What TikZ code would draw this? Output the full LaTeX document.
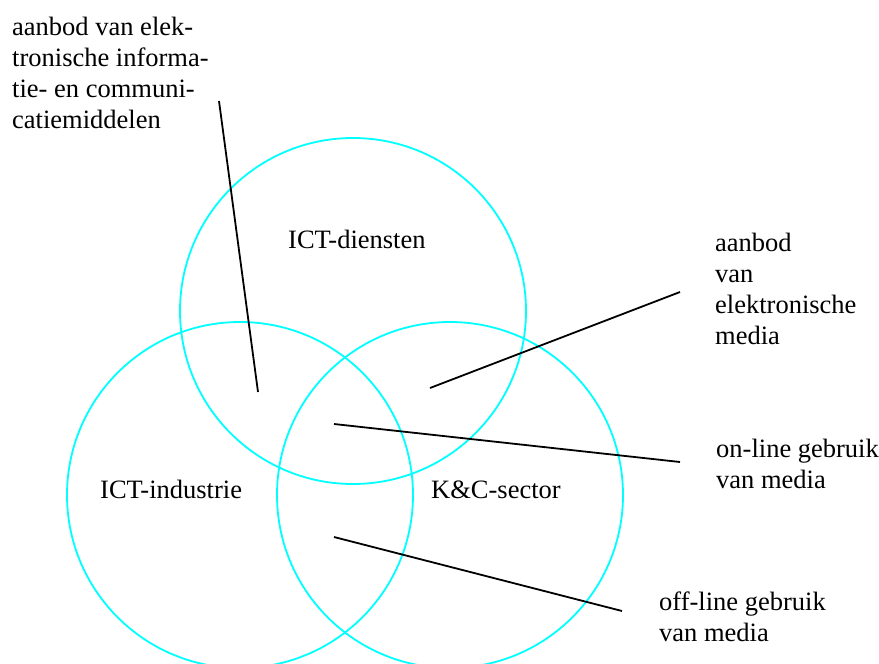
\documentclass[tikz,border=0pt]{standalone}
\usepackage{fontspec}
\setmainfont{Liberation Serif}
\definecolor{ringcol}{RGB}{0,255,255}
\begin{document}
\begin{tikzpicture}[x=1pt,y=-1pt,
  ring/.style={draw=ringcol,line width=1.8pt},
  lead/.style={draw=black,line width=1.8pt},
  lbl/.style={inner sep=0pt,font=\fontsize{26.5}{31}\selectfont,align=left,anchor=base west}]
\useasboundingbox (0,0) rectangle (879,664);
\draw[ring] (353,311) circle (173);
\draw[ring] (240,495) circle (173);
\draw[ring] (450,495) circle (173);
\node[lbl] (dien) at (288,248) {ICT-diensten};
\node[lbl] (ind) at (100,498) {ICT-industrie};
\node[lbl] (kc) at (431,498) {K\&C-sector};
\node[lbl,anchor=north west] (t1) at (12,17) {aanbod van elek-\\tronische informa-\\tie- en communi-\\catiemiddelen};
\node[lbl,anchor=north west] (t2) at (715,233) {aanbod\\van\\elektronische\\media};
\node[lbl,anchor=north west] (t3) at (716,439) {on-line gebruik\\van media};
\node[lbl,anchor=north west] (t4) at (659,592) {off-line gebruik\\van media};
\coordinate (a1) at (219,101); \coordinate (a2) at (258,392);
\coordinate (b1) at (680,292); \coordinate (b2) at (430,388);
\coordinate (c1) at (680,462); \coordinate (c2) at (334,424);
\coordinate (d1) at (622,611); \coordinate (d2) at (334,537);
\draw[lead] (a1) -- (a2);
\draw[lead] (b1) -- (b2);
\draw[lead] (c1) -- (c2);
\draw[lead] (d1) -- (d2);
\end{tikzpicture}
\end{document}
